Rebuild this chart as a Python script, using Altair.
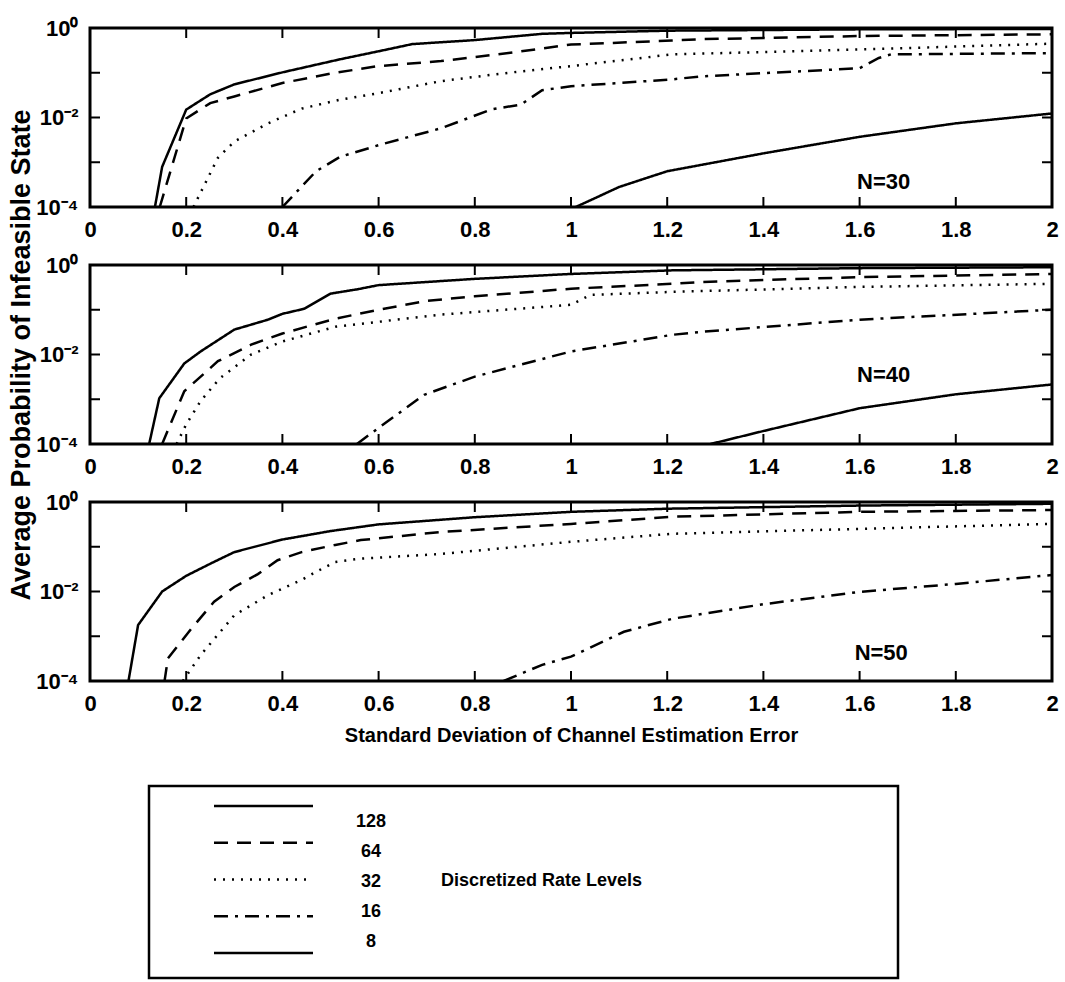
import altair as alt
import pandas as pd

# ---------------- data ----------------
levels = ["128", "64", "32", "16", "8"]
panel_names = ["N=30", "N=40", "N=50"]

# N=30
n30_128_x = [0.135, 0.15, 0.20, 0.25, 0.30, 0.40, 0.52, 0.60, 0.67, 0.80, 0.94, 1.00, 1.20, 1.60, 2.00]
n30_128_p = [1.0e-4, 7.9e-4, 1.5e-2, 3.3e-2, 5.5e-2, 0.102, 0.200, 0.302, 0.437, 0.537, 0.741, 0.776, 0.871, 0.933, 0.955]
n30_64_x = [0.145, 0.20, 0.25, 0.30, 0.40, 0.51, 0.60, 0.73, 0.87, 1.00, 1.21, 1.27, 1.60, 2.00]
n30_64_p = [1.0e-4, 9.5e-3, 2.1e-2, 2.95e-2, 5.9e-2, 0.100, 0.141, 0.182, 0.275, 0.427, 0.525, 0.562, 0.661, 0.724]
n30_32_x = [0.215, 0.266, 0.30, 0.37, 0.44, 0.52, 0.60, 0.73, 0.87, 1.00, 1.21, 1.60, 2.00]
n30_32_p = [1.0e-4, 1.26e-3, 2.9e-3, 7.4e-3, 1.58e-2, 2.5e-2, 3.5e-2, 6.5e-2, 0.100, 0.141, 0.257, 0.331, 0.447]
n30_16_x = [0.40, 0.47, 0.52, 0.605, 0.73, 0.834, 0.896, 0.94, 1.00, 1.21, 1.27, 1.60, 1.64, 1.665, 2.00]
n30_16_p = [1.0e-4, 6.3e-4, 1.32e-3, 2.5e-3, 5.75e-3, 1.51e-2, 1.95e-2, 4.07e-2, 5.0e-2, 7.1e-2, 8.3e-2, 0.126, 0.214, 0.257, 0.275]
n30_8_x = [1.01, 1.10, 1.20, 1.40, 1.60, 1.80, 2.00]
n30_8_p = [1.0e-4, 2.8e-4, 6.3e-4, 1.58e-3, 3.7e-3, 7.4e-3, 1.23e-2]

# N=40
n40_128_x = [0.123, 0.144, 0.196, 0.23, 0.30, 0.37, 0.40, 0.445, 0.50, 0.557, 0.60, 0.80, 1.00, 1.21, 1.60, 2.00]
n40_128_p = [1.0e-4, 1.05e-3, 6.3e-3, 1.17e-2, 3.6e-2, 6.0e-2, 8.1e-2, 0.105, 0.229, 0.288, 0.355, 0.490, 0.631, 0.759, 0.851, 0.891]
n40_64_x = [0.15, 0.196, 0.266, 0.335, 0.40, 0.51, 0.60, 0.70, 0.80, 1.00, 1.21, 1.27, 1.60, 2.00]
n40_64_p = [1.0e-4, 1.51e-3, 7.1e-3, 1.66e-2, 2.95e-2, 6.3e-2, 0.100, 0.158, 0.200, 0.295, 0.380, 0.417, 0.537, 0.631]
n40_32_x = [0.18, 0.20, 0.23, 0.27, 0.335, 0.40, 0.51, 0.73, 1.00, 1.04, 1.21, 1.60, 2.00]
n40_32_p = [1.0e-4, 2.75e-4, 9.1e-4, 2.95e-3, 1.0e-2, 1.95e-2, 4.17e-2, 7.8e-2, 0.129, 0.214, 0.251, 0.324, 0.380]
n40_16_x = [0.555, 0.60, 0.695, 0.80, 1.00, 1.21, 1.27, 1.60, 2.00]
n40_16_p = [1.0e-4, 2.3e-4, 1.26e-3, 3.2e-3, 1.17e-2, 2.75e-2, 3.2e-2, 6.0e-2, 0.100]
n40_8_x = [1.29, 1.40, 1.60, 1.80, 2.00]
n40_8_p = [1.0e-4, 1.95e-4, 6.3e-4, 1.29e-3, 2.14e-3]

# N=50
n50_128_x = [0.08, 0.10, 0.15, 0.20, 0.25, 0.30, 0.40, 0.50, 0.60, 0.80, 1.00, 1.20, 1.60, 2.00]
n50_128_p = [1.0e-4, 1.78e-3, 1.0e-2, 2.24e-2, 4.17e-2, 7.6e-2, 0.145, 0.224, 0.316, 0.457, 0.603, 0.708, 0.832, 0.912]
n50_64_x = [0.155, 0.162, 0.21, 0.258, 0.30, 0.349, 0.39, 0.44, 0.51, 0.563, 0.73, 1.00, 1.21, 1.60, 2.00]
n50_64_p = [1.0e-4, 3.2e-4, 1.45e-3, 5.9e-3, 1.26e-2, 2.45e-2, 5.0e-2, 7.6e-2, 0.110, 0.141, 0.214, 0.324, 0.468, 0.603, 0.661]
n50_32_x = [0.193, 0.23, 0.30, 0.37, 0.44, 0.47, 0.51, 0.56, 0.73, 1.00, 1.21, 1.60, 2.00]
n50_32_p = [1.0e-4, 3.8e-4, 2.95e-3, 8.3e-3, 1.82e-2, 2.75e-2, 4.57e-2, 5.4e-2, 6.9e-2, 0.129, 0.195, 0.251, 0.324]
n50_16_x = [0.86, 0.94, 1.00, 1.11, 1.21, 1.40, 1.60, 1.80, 2.00]
n50_16_p = [1.0e-4, 2.3e-4, 3.5e-4, 1.26e-3, 2.45e-3, 5.2e-3, 9.8e-3, 1.48e-2, 2.34e-2]

# axis ticks and labels
x_tick_values = [0, 0.2, 0.4, 0.6, 0.8, 1, 1.2, 1.4, 1.6, 1.8, 2]
x_tick_labels = ["0", "0.2", "0.4", "0.6", "0.8", "1", "1.2", "1.4", "1.6", "1.8", "2"]
x_inner_ticks = [0.2, 0.4, 0.6, 0.8, 1, 1.2, 1.4, 1.6, 1.8]
y_tick_values = [0.0001, 0.01, 1]
y_tick_labels = ["10\u207b\u2074", "10\u207b\u00b2", "10\u2070"]
y_inner_ticks = [0.001, 0.01, 0.1]

x_title = "Standard Deviation of Channel Estimation Error"
y_title = "Average Probability of Infeasible State"
legend_title = "Discretized Rate Levels"

# ---------------- build table ----------------
series = {
    ("N=30", "128"): (n30_128_x, n30_128_p), ("N=30", "64"): (n30_64_x, n30_64_p),
    ("N=30", "32"): (n30_32_x, n30_32_p), ("N=30", "16"): (n30_16_x, n30_16_p),
    ("N=30", "8"): (n30_8_x, n30_8_p),
    ("N=40", "128"): (n40_128_x, n40_128_p), ("N=40", "64"): (n40_64_x, n40_64_p),
    ("N=40", "32"): (n40_32_x, n40_32_p), ("N=40", "16"): (n40_16_x, n40_16_p),
    ("N=40", "8"): (n40_8_x, n40_8_p),
    ("N=50", "128"): (n50_128_x, n50_128_p), ("N=50", "64"): (n50_64_x, n50_64_p),
    ("N=50", "32"): (n50_32_x, n50_32_p), ("N=50", "16"): (n50_16_x, n50_16_p),
}
rows = []
for (panel, level), (xs, ps) in series.items():
    for i, (xv, pv) in enumerate(zip(xs, ps)):
        rows.append({"panel": panel, "level": level, "x": xv, "p": pv, "order": i})
df = pd.DataFrame(rows)

# ---------------- styling ----------------
W, H = 962, 179
FONT = "Liberation Sans, Arial, sans-serif"
dashes = [[1, 0], [14, 9], [2, 7], [14, 7, 3, 7], [1, 0]]
TICK = 10


def arr(v):
    return "[" + ",".join(repr(a) if not isinstance(a, str) else "'" + a + "'" for a in v) + "]"


x_label_expr = f"{arr(x_tick_labels)}[indexof({arr(x_tick_values)}, datum.value)]"
y_label_expr = f"{arr(y_tick_labels)}[indexof({arr(y_tick_values)}, datum.value)]"

x_scale = alt.Scale(domain=[0, 2], nice=False, zero=False)
y_scale = alt.Scale(type="log", domain=[1e-4, 1], nice=False)
dash_scale = alt.Scale(domain=levels, range=dashes)


def panel(name, pos_x, pos_y, show_xtitle=False, show_ytitle=False):
    xaxis = dict(values=x_tick_values, labelExpr=x_label_expr, ticks=False, domain=False,
                 grid=False, labelFlush=False, labelPadding=12, labelOverlap=False)
    if show_xtitle:
        xaxis.update(title=x_title, titlePadding=11)
    else:
        xaxis.update(title=None)
    yaxis = dict(values=y_tick_values, labelExpr=y_label_expr, ticks=False, domain=False,
                 grid=False, labelPadding=12, labelOverlap=False)
    if show_ytitle:
        yaxis.update(title=y_title, titleX=-69, titleY=H / 2, titleAngle=270,
                     titleAlign="center", titleBaseline="middle", titleFontSize=27)
    else:
        yaxis.update(title=None)

    base = alt.Chart(df).transform_filter(alt.datum.panel == name)
    lines = base.mark_line(color="black", strokeWidth=2.5, clip=True).encode(
        x=alt.X("x:Q", scale=x_scale, axis=alt.Axis(**xaxis)),
        y=alt.Y("p:Q", scale=y_scale, axis=alt.Axis(**yaxis)),
        strokeDash=alt.StrokeDash("level:N", scale=dash_scale, legend=None),
        detail="level:N",
        order="order:Q",
    )
    xt = alt.Chart(pd.DataFrame({"x": x_inner_ticks})).mark_rule(color="black", strokeWidth=2)
    xt_bottom = xt.encode(x=alt.X("x:Q", scale=x_scale), y=alt.value(H), y2=alt.value(H - TICK))
    xt_top = xt.encode(x=alt.X("x:Q", scale=x_scale), y=alt.value(0), y2=alt.value(TICK))
    yt = alt.Chart(pd.DataFrame({"p": y_inner_ticks})).mark_rule(color="black", strokeWidth=2)
    yt_left = yt.encode(y=alt.Y("p:Q", scale=y_scale), x=alt.value(0), x2=alt.value(TICK))
    yt_right = yt.encode(y=alt.Y("p:Q", scale=y_scale), x=alt.value(W), x2=alt.value(W - TICK))
    label = alt.Chart(pd.DataFrame({"t": [name]})).mark_text(
        font=FONT, fontSize=22, fontWeight="bold", color="black", align="center", baseline="middle"
    ).encode(x=alt.datum(pos_x), y=alt.datum(pos_y), text="t:N")
    return alt.layer(xt_bottom, xt_top, yt_left, yt_right, lines, label).properties(
        width=W, height=H, view=alt.ViewBackground(stroke="black", strokeWidth=3)
    )


p1 = panel("N=30", 1.65, 3.6e-4)
p2 = panel("N=40", 1.65, 3.4e-3, show_ytitle=True)
p3 = panel("N=50", 1.645, 4.3e-4, show_xtitle=True)

# ---------------- legend panel ----------------
LH = 242
leg_df = pd.DataFrame({"level": levels})
box = alt.Chart(pd.DataFrame({"a": [0]})).mark_rect(
    fill="white", stroke="black", strokeWidth=2.5
).encode(x=alt.value(59), x2=alt.value(808), y=alt.value(47), y2=alt.value(239))
samples = alt.Chart(leg_df).mark_rule(color="black", strokeWidth=2.5).encode(
    x=alt.value(124), x2=alt.value(223),
    y=alt.Y("level:N", sort=levels, axis=None,
            scale=alt.Scale(type="point", domain=levels, range=[67, 214], padding=0)),
    strokeDash=alt.StrokeDash("level:N", scale=dash_scale, legend=None),
)
labels = alt.Chart(leg_df).mark_text(
    font=FONT, fontSize=18, fontWeight="bold", color="black", align="center", baseline="middle"
).encode(
    x=alt.value(281),
    y=alt.Y("level:N", sort=levels, axis=None,
            scale=alt.Scale(type="point", domain=levels, range=[83, 203], padding=0)),
    text="level:N",
)
ltitle = alt.Chart(pd.DataFrame({"t": [legend_title]})).mark_text(
    font=FONT, fontSize=18, fontWeight="bold", color="black", align="left", baseline="middle"
).encode(x=alt.value(351), y=alt.value(142), text="t:N")

legend = alt.layer(box, samples, labels, ltitle).resolve_scale(y="independent").properties(
    width=W, height=LH, view=alt.ViewBackground(stroke="transparent")
)

chart = alt.vconcat(p1, p2, p3, legend, spacing=58, bounds="flush").properties(
    padding={"left": 5, "top": 15, "right": 5, "bottom": 0}
).configure_axis(
    labelFont=FONT, labelFontSize=22, labelFontWeight="bold", labelColor="black",
    titleFont=FONT, titleFontSize=20, titleFontWeight="bold", titleColor="black",
).configure_view(stroke="black", strokeWidth=3)

chart.save("out.html", embed_options={"renderer": "svg", "actions": False})
